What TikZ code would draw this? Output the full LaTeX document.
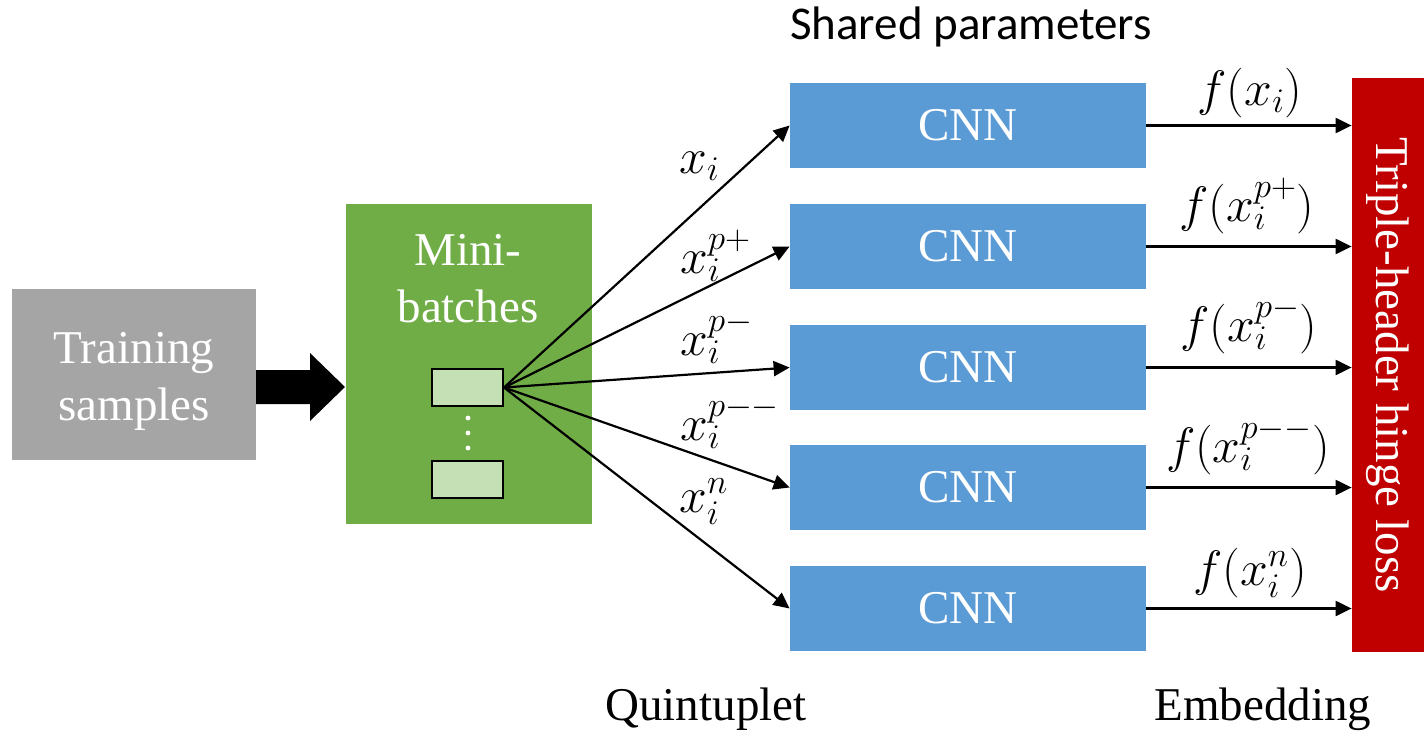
\documentclass[tikz,border=0pt]{standalone}
\usepackage{fontspec}
\setmainfont{Liberation Serif}
\newfontfamily\timesfont{Liberation Serif}
\newfontfamily\calibrifont{Carlito}
\usetikzlibrary{arrows.meta}
\definecolor{grayfill}{HTML}{A5A5A5}
\definecolor{greenfill}{HTML}{70AD47}
\definecolor{lightgreen}{HTML}{C5E0B4}
\definecolor{bluefill}{HTML}{5B9BD5}
\definecolor{redfill}{HTML}{C00000}
\begin{document}
\begin{tikzpicture}[x=0.5pt,y=-0.5pt,
  big/.style={font=\timesfont\fontsize{23.5}{28.5}\selectfont, text=white, inner sep=0pt, align=center},
  plain/.style={font=\timesfont\fontsize{23.5}{28}\selectfont, inner sep=0pt},
  mathlbl/.style={font=\fontsize{24}{28}\selectfont, inner sep=0pt},
  cnn/.style={fill=bluefill, minimum width=178pt, minimum height=42.5pt, inner sep=0pt, font=\timesfont\fontsize{23.5}{28}\selectfont, text=white},
  conn/.style={line width=1.1pt, -{Triangle[length=8pt,width=7.5pt]}},
  slot/.style={fill=lightgreen, draw=black, line width=1pt, minimum width=35.5pt, minimum height=18.5pt, inner sep=0pt},
]
\useasboundingbox (0,0) rectangle (1424,733);

% training samples
\node[fill=grayfill, minimum width=122pt, minimum height=85.5pt, inner sep=0pt] (train) at (134,374.5) {};
\node[big] (traintext) at (134,381.5) {Training\\samples};

% block arrow
\fill[black] (256,370) -- (310,370) -- (310,353) -- (345,387) -- (310,421) -- (310,404) -- (256,404) -- cycle;

% mini-batches
\node[fill=greenfill, minimum width=123pt, minimum height=160pt, inner sep=0pt] (mini) at (469,364) {};
\node[big] (minitext) at (468,279) {Mini-\\batches};
\node[slot] (s1) at (467.5,387.5) {};
\node[slot] (s2) at (467.5,479.5) {};
\fill[white] (468,418) circle (1.2pt);
\fill[white] (468,433) circle (1.2pt);
\fill[white] (468,448) circle (1.2pt);

% CNNs
\node[cnn] (c1) at (968,125.5) {CNN};
\node[cnn] (c2) at (968,246.5) {CNN};
\node[cnn] (c3) at (968,367.5) {CNN};
\node[cnn] (c4) at (968,487.5) {CNN};
\node[cnn] (c5) at (968,608.5) {CNN};

% loss
\node[fill=redfill, minimum width=36pt, minimum height=287pt, inner sep=0pt] (loss) at (1388,365) {};
\node[big, rotate=-90] (losstext) at (1388,365) {Triple-header hinge loss};

% connectors
\foreach \c in {c1,c2,c3,c4,c5}{
  \draw[conn] (s1.east) -- (\c.west);
  \draw[conn] (\c.east) -- (\c.east -| loss.west);
}

% input labels
\node[mathlbl, anchor=base west] (l1) at (679,173) {$x_i$};
\node[mathlbl, anchor=base west] (l2) at (680,273) {$x_i^{p+}$};
\node[mathlbl, anchor=base west] (l3) at (680,355) {$x_i^{p-}$};
\node[mathlbl, anchor=base west] (l4) at (680,440) {$x_i^{p--}$};
\node[mathlbl, anchor=base west] (l5) at (679,512) {$x_i^{n}$};

% output labels
\node[mathlbl, anchor=base] (f1) at (1250,105) {$f(x_i)$};
\node[mathlbl, anchor=base] (f2) at (1247,221) {$f(x_i^{p+})$};
\node[mathlbl, anchor=base] (f3) at (1249,341) {$f(x_i^{p-})$};
\node[mathlbl, anchor=base] (f4) at (1248,462) {$f(x_i^{p--})$};
\node[mathlbl, anchor=base] (f5) at (1250,585) {$f(x_i^{n})$};

% captions
\node[font=\calibrifont\fontsize{23.5}{28}\selectfont, inner sep=0pt, anchor=base] (shared) at (971,40) {Shared parameters};
\node[plain, anchor=base] (quint) at (706,720) {Quintuplet};
\node[plain, anchor=base] (embed) at (1263,720) {Embedding};
\end{tikzpicture}
\end{document}
